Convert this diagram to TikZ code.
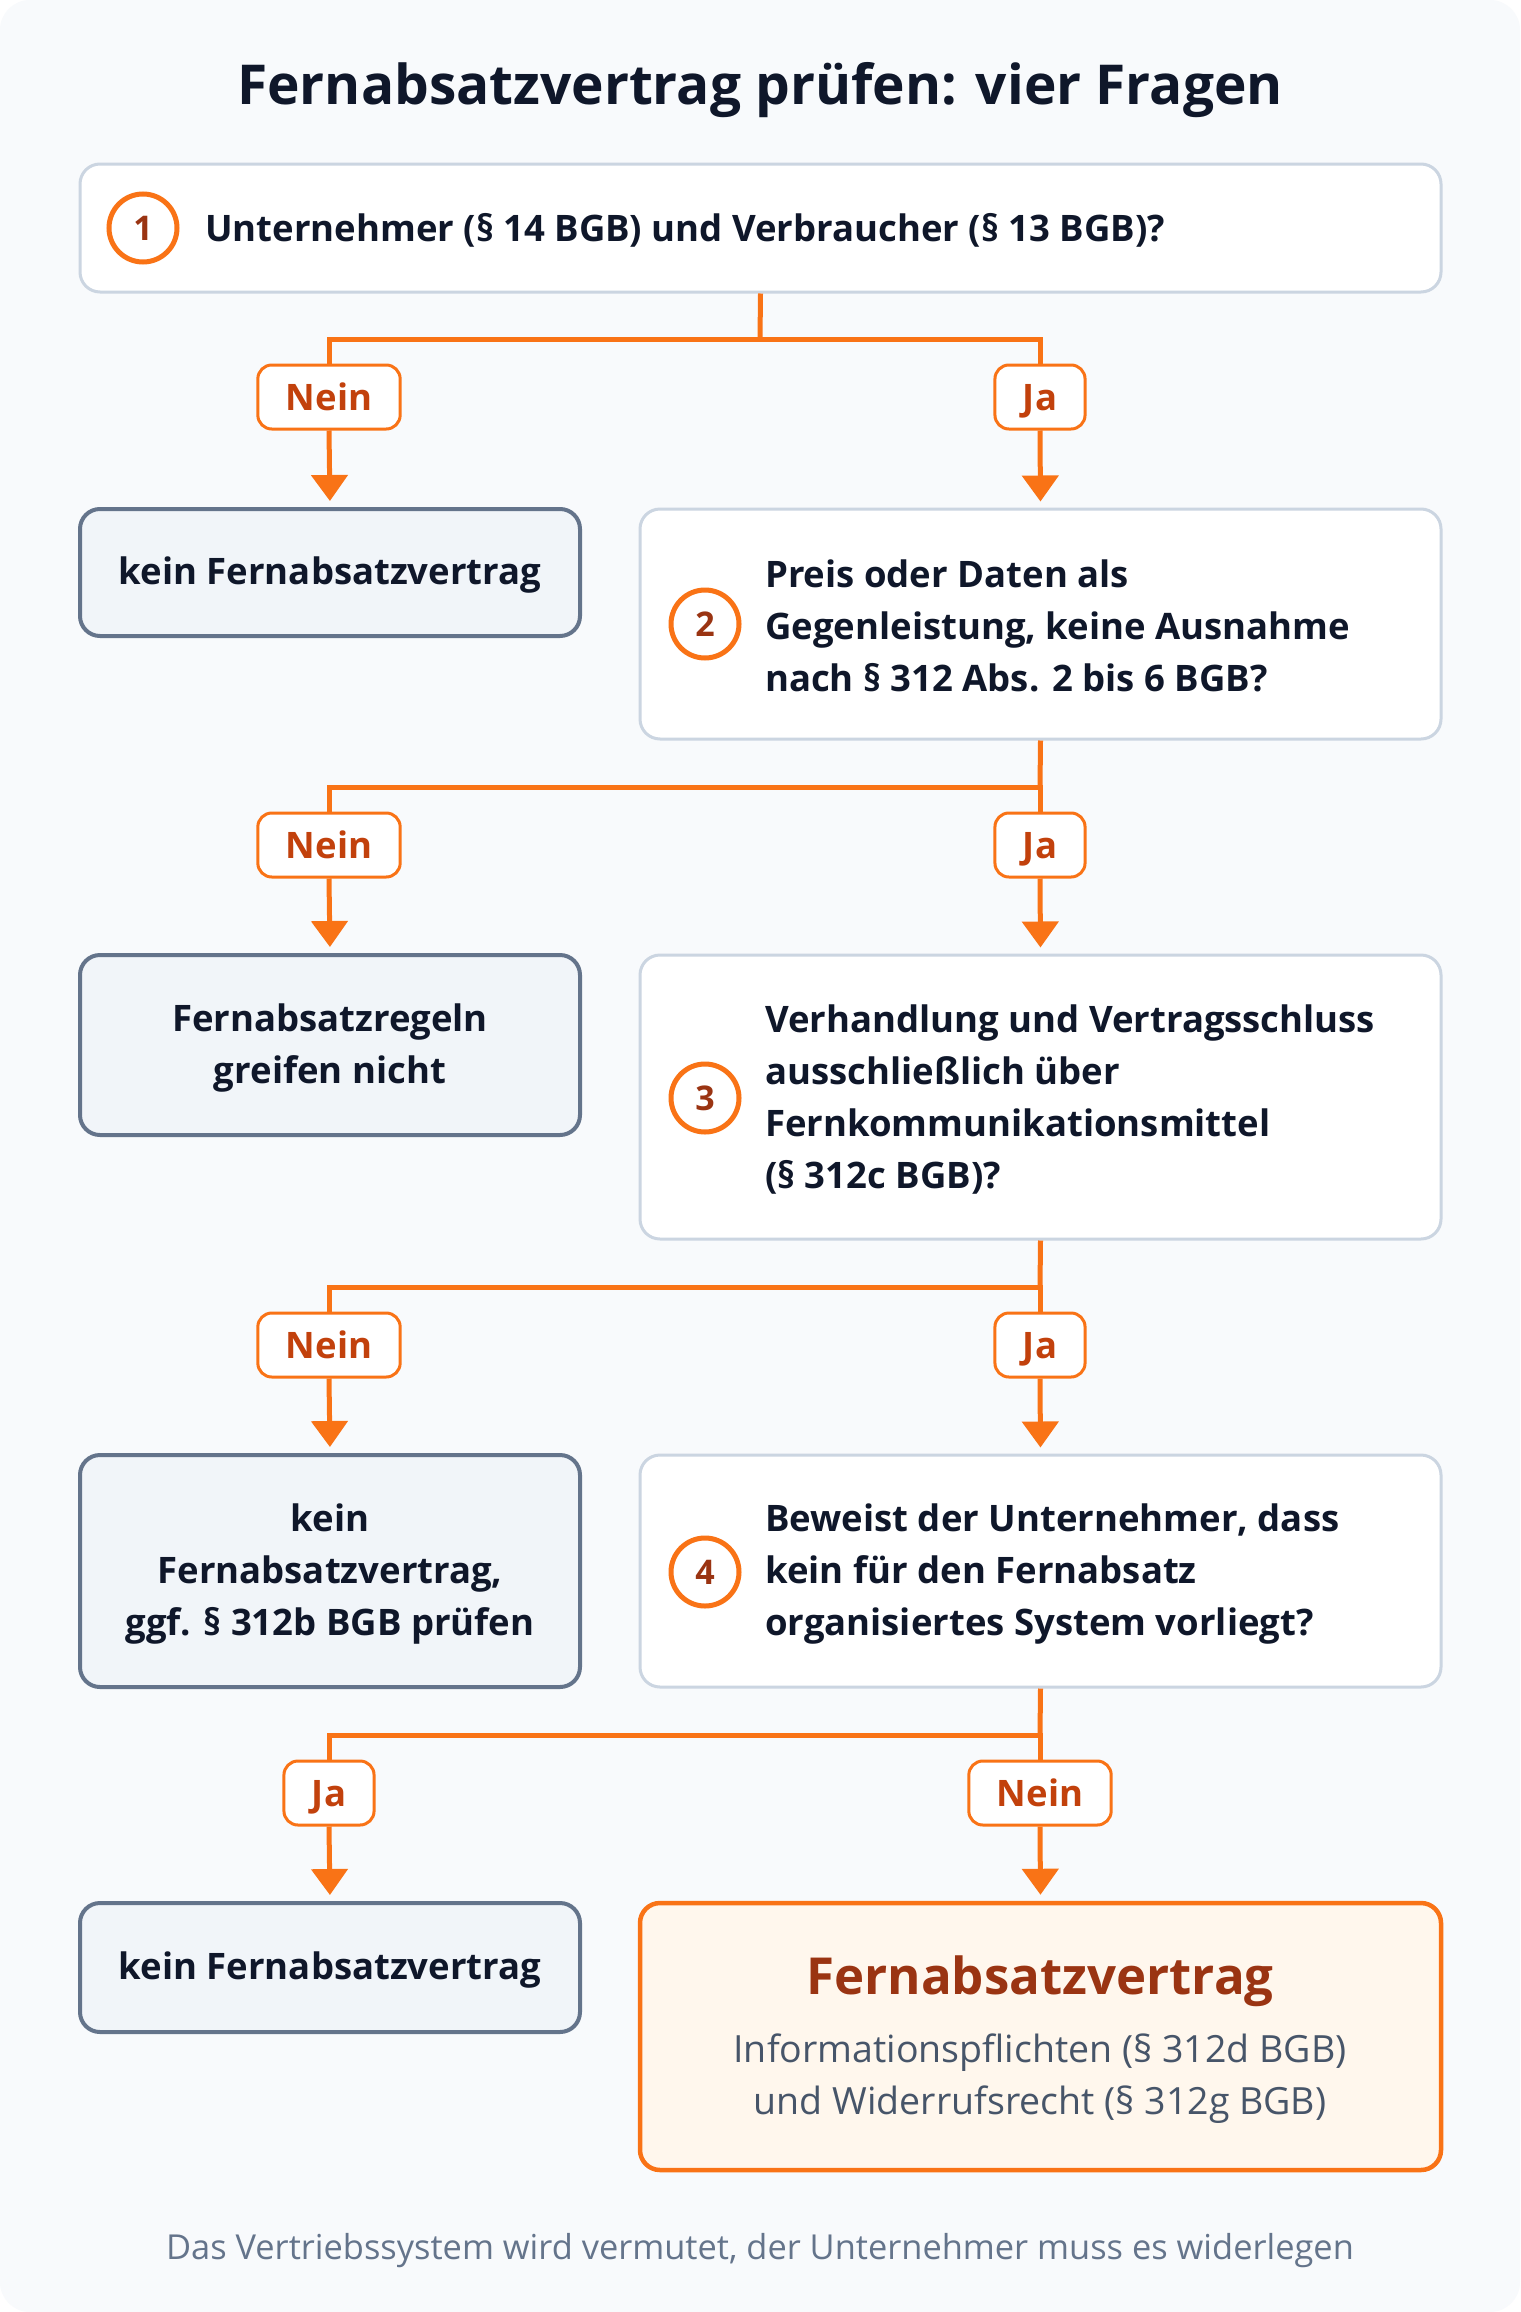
\documentclass[tikz,border=0pt]{standalone}
\usepackage{fontspec}
\setmainfont{Open Sans}
\usetikzlibrary{arrows.meta}
\definecolor{bgc}{HTML}{F8FAFC}
\definecolor{ink}{HTML}{0F172A}
\definecolor{qline}{HTML}{CBD5E1}
\definecolor{eline}{HTML}{64748B}
\definecolor{efill}{HTML}{F1F5F9}
\definecolor{orng}{HTML}{F97316}
\definecolor{brwn}{HTML}{9A3412}
\definecolor{labtxt}{HTML}{C2410C}
\definecolor{rfill}{HTML}{FFF7ED}
\definecolor{subtxt}{HTML}{475569}
\definecolor{foot}{HTML}{64748B}
\tikzset{
  qbox/.style={draw=qline, line width=3pt, fill=white, rounded corners=20pt, inner sep=0pt},
  endbox/.style={draw=eline, line width=4pt, fill=efill, rounded corners=20pt, inner sep=0pt, minimum width=500pt},
  resbox/.style={draw=orng, line width=4.5pt, fill=rfill, rounded corners=20pt, inner sep=0pt},
  numc/.style={circle, draw=orng, line width=5pt, fill=white, minimum size=68pt, inner sep=0pt, text=brwn, font=\bfseries\fontsize{34}{40}\selectfont},
  qtext/.style={anchor=west, align=left, inner sep=0pt, text=ink, font=\bfseries\fontsize{36.5}{52}\selectfont},
  etext/.style={align=center, inner sep=0pt, text=ink, font=\bfseries\fontsize{36.5}{52}\selectfont},
  lab/.style={draw=orng, line width=3pt, fill=white, rounded corners=14pt, text=labtxt, inner xsep=28pt, inner ysep=0pt, minimum height=64pt, text height=26pt, text depth=0pt, font=\bfseries\fontsize{36.5}{40}\selectfont},
  conn/.style={draw=orng, line width=5pt},
  arr/.style={draw=orng, line width=5pt, -{Triangle[width=36pt,length=26pt]}, shorten >=6pt}
}
\begin{document}
\begin{tikzpicture}[x=1pt,y=-1pt]
\useasboundingbox (0,0) rectangle (1520,2312);
\fill[white] (0,0) rectangle (1520,2312);
\fill[bgc, rounded corners=30pt] (0,0) rectangle (1520,2312);

\node[text=ink, font=\bfseries\fontsize{55}{62}\selectfont] (title) at (760,90) {Fernabsatzvertrag prüfen: vier Fragen};

% Row 1
\node[qbox, minimum width=1361pt, minimum height=128pt] (q1) at (760.5,228) {};
\node[numc] (c1) at (143,228) {1};
\node[qtext] (t1) at (205,230) {Unternehmer (§ 14 BGB) und Verbraucher (§ 13 BGB)?};

% Row 2
\node[endbox, minimum height=127pt] (e1) at (330,572.5) {};
\node[etext] (et1) at (330,575) {kein Fernabsatzvertrag};
\node[qbox, minimum width=801pt, minimum height=230pt] (q2) at (1040.5,624) {};
\node[numc] (c2) at (705,624) {2};
\node[qtext] (t2) at (765,626) {Preis oder Daten als\\Gegenleistung, keine Ausnahme\\nach § 312 Abs. 2 bis 6 BGB?};

% Row 3
\node[endbox, minimum height=180pt] (e2) at (330,1045) {};
\node[etext] (et2) at (330,1048) {Fernabsatzregeln\\greifen nicht};
\node[qbox, minimum width=801pt, minimum height=284pt] (q3) at (1040.5,1097) {};
\node[numc] (c3) at (705,1098) {3};
\node[qtext] (t3) at (765,1100) {Verhandlung und Vertragsschluss\\ausschließlich über\\Fernkommunikationsmittel\\(§ 312c BGB)?};

% Row 4
\node[endbox, minimum height=232pt] (e3) at (330,1571) {};
\node[etext] (et3) at (330,1574) {kein\\Fernabsatzvertrag,\\ggf. § 312b BGB prüfen};
\node[qbox, minimum width=801pt, minimum height=232pt] (q4) at (1040.5,1571) {};
\node[numc] (c4) at (705,1572) {4};
\node[qtext] (t4) at (765,1574) {Beweist der Unternehmer, dass\\kein für den Fernabsatz\\organisiertes System vorliegt?};

% Row 5
\node[endbox, minimum height=129pt] (e4) at (330,1967.5) {};
\node[etext] (et4) at (330,1970) {kein Fernabsatzvertrag};
\node[resbox, minimum width=801pt, minimum height=267pt] (r) at (1040.5,2036.5) {};
\node[text=brwn, inner sep=0pt, font=\bfseries\fontsize{51}{58}\selectfont] (rt) at (1040,1981) {Fernabsatzvertrag};
\node[text=subtxt, inner sep=0pt, align=center, font=\fontsize{37.5}{52}\selectfont] (rs) at (1040,2079) {Informationspflichten (§ 312d BGB)\\und Widerrufsrecht (§ 312g BGB)};

% Footer
\node[text=foot, font=\fontsize{34.4}{40}\selectfont] (ft) at (760,2251) {Das Vertriebssystem wird vermutet, der Unternehmer muss es widerlegen};

% Labels
\node[lab] (n1) at (329,397) {Nein};
\node[lab] (y1) at (1040,397) {Ja};
\node[lab] (n2) at (329,845) {Nein};
\node[lab] (y2) at (1040,845) {Ja};
\node[lab] (n3) at (329,1345) {Nein};
\node[lab] (y3) at (1040,1345) {Ja};
\node[lab] (y4) at (329,1793) {Ja};
\node[lab] (n4) at (1040,1793) {Nein};

% Junction coordinates
\coordinate (j1) at (760,339);
\coordinate (j2) at (1040,787);
\coordinate (j3) at (1040,1287);
\coordinate (j4) at (1040,1735);

% Connectors
\draw[conn] (q1.south) -- (j1);
\draw[conn] (n1.north) |- (j1) -| (y1.north);
\draw[arr] (n1.south) -- (e1.north);
\draw[arr] (y1.south) -- (q2.north);

\draw[conn] (q2.south) -- (j2);
\draw[conn] (n2.north) |- (j2) -- (y2.north);
\draw[arr] (n2.south) -- (e2.north);
\draw[arr] (y2.south) -- (q3.north);

\draw[conn] (q3.south) -- (j3);
\draw[conn] (n3.north) |- (j3) -- (y3.north);
\draw[arr] (n3.south) -- (e3.north);
\draw[arr] (y3.south) -- (q4.north);

\draw[conn] (q4.south) -- (j4);
\draw[conn] (y4.north) |- (j4) -- (n4.north);
\draw[arr] (y4.south) -- (e4.north);
\draw[arr] (n4.south) -- (r.north);
\end{tikzpicture}
\end{document}
